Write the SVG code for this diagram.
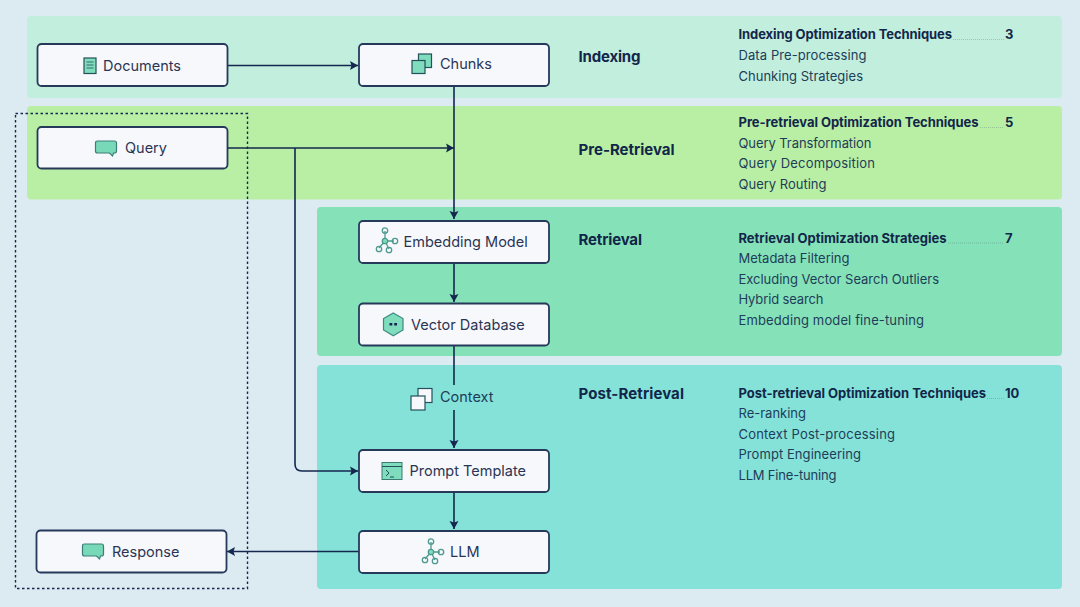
<svg xmlns="http://www.w3.org/2000/svg" width="1080" height="607" viewBox="0 0 1080 607">
<style>
.node{fill:#f6f8fc;stroke:#26395a;stroke-width:1.8}
.lbl{font:400 14.5px Inter,"Liberation Sans",sans-serif;fill:#2b3553}
.sec{font:700 15px Inter,"Liberation Sans",sans-serif;fill:#12264a}
.h{font:700 13px Inter,"Liberation Sans",sans-serif;fill:#12264a}
.t{font:400 13px Inter,"Liberation Sans",sans-serif;fill:#1e3d58}
.dots{stroke:#12264a;stroke-width:.7;stroke-dasharray:.7 1.3;fill:none;opacity:.45}
.c{stroke:#14274e;stroke-width:1.6;fill:none}
.ic{fill:#7fdcbc;stroke:#23505a;stroke-width:1.2}
.g{fill:none;stroke:#4d9a8e;stroke-width:1.3}
</style>
<defs>
<marker id="a" markerUnits="userSpaceOnUse" markerWidth="9" markerHeight="10" refX="8" refY="5" orient="auto"><path d="M0 .5L8 5L0 9.500L1.500 5Z" fill="#14274e"/></marker>
<g id="bubble"><path d="M-8.500-7H8.500Q10.500-7 10.500-5V3Q10.500 5 8.500 5H7.500L6.500 8L3.500 5H-8.500Q-10.500 5-10.500 3V-5Q-10.500-7-8.500-7Z" fill="#78d9b8" stroke="#3d7f78" stroke-width="1.200"/></g>
<g id="net"><path class="g" d="M-1-10V0H8M-1 0L-7 7M-1 0L3 8"/><circle class="g" cx="-1" cy="-10.500" r="2.700"/><circle cx="-1" cy="0" r="2.700" fill="#7fdcbc" stroke="#4d9a8e" stroke-width="1.300"/><circle class="g" cx="9" cy="0" r="2.700"/><circle class="g" cx="-7" cy="8" r="2.700"/><circle class="g" cx="3" cy="9" r="2.700"/></g>
</defs>
<rect width="1080" height="607" fill="#dceaf1"/>
<g id="bands">
<rect x="27" y="16" width="1035" height="82" rx="4" fill="#c1eedd"/>
<rect x="27" y="106" width="1035" height="93.500" rx="4" fill="#b9efa4"/>
<rect x="317" y="207" width="745" height="149" rx="4" fill="#85e2b8"/>
<rect x="317" y="365" width="745" height="224" rx="4" fill="#84e2d8"/>
</g>
<rect id="query-response-scope" x="15.500" y="113.500" width="232" height="475" fill="none" stroke="#14274e" stroke-width="1.400" stroke-dasharray="2.500 2.500"/>
<g id="connectors">
<path class="c" d="M228 65.500H358" marker-end="url(#a)"/>
<path class="c" d="M454 86V219" marker-end="url(#a)"/>
<path class="c" d="M228 148H454" marker-end="url(#a)"/>
<path class="c" d="M295 148V464Q295 471 302 471H358" marker-end="url(#a)"/>
<path class="c" d="M454 263V302" marker-end="url(#a)"/>
<path class="c" d="M454 346V385"/>
<path class="c" d="M454 410V448" marker-end="url(#a)"/>
<path class="c" d="M454 492V529" marker-end="url(#a)"/>
<path class="c" d="M359 551.500H227" marker-end="url(#a)"/>
</g>
<g id="documents"><rect class="node" x="37.500" y="44" width="190" height="42" rx="4"/>
<rect class="ic" x="84" y="58" width="12" height="15.500"/><path d="M86.500 62H93.500M86.500 65H93.500M86.500 68H93.500" stroke="#23505a" stroke-width=".8"/>
<text class="lbl" x="103" y="70.500">Documents</text></g>
<g id="chunks"><rect class="node" x="359" y="44" width="190" height="42" rx="4"/>
<rect x="418.500" y="54" width="13" height="13.500" class="ic"/><rect x="412" y="60.500" width="13" height="13" class="ic"/>
<text class="lbl" x="440" y="69">Chunks</text></g>
<g id="query"><rect class="node" x="37.500" y="127" width="190" height="41.500" rx="4"/>
<use href="#bubble" x="106" y="148"/>
<text class="lbl" x="125" y="153">Query</text></g>
<g id="embedding-model"><rect class="node" x="359" y="221" width="190" height="42" rx="4"/>
<use href="#net" x="386" y="241"/>
<text class="lbl" x="403.500" y="247">Embedding Model</text></g>
<g id="vector-database"><rect class="node" x="359" y="303.500" width="190" height="42" rx="4"/>
<path d="M393.300 313L403 318.500V330L393.300 335.800L383.500 330V318.500Z" fill="#7fdcbc" stroke="#3d8a80" stroke-width="1.200"/><path d="M389.500 324.300H397" stroke="#14274e" stroke-width="2.400" stroke-dasharray="2.800 1.900"/>
<text class="lbl" x="411" y="329.500">Vector Database</text></g>
<g id="context"><rect x="418" y="388.500" width="14" height="14" fill="#f6f8fc" stroke="#23505a" stroke-width="1.200"/><rect x="411" y="396" width="14" height="14" fill="#f6f8fc" stroke="#23505a" stroke-width="1.200"/>
<text x="440" y="402" style="font:400 14.500px Inter,'Liberation Sans',sans-serif;fill:#1e3d58">Context</text></g>
<g id="prompt-template"><rect class="node" x="359" y="450" width="190" height="42" rx="4"/>
<rect x="382" y="462.500" width="20" height="17" fill="#7fdcbc" stroke="#3d7a70" stroke-width="1"/><path d="M382 466.500H402" stroke="#23505a" stroke-width="1"/><path d="M386 470L389 473L386 476M390 477H394" fill="none" stroke="#23505a"/>
<text class="lbl" x="409.500" y="476">Prompt Template</text></g>
<g id="llm"><rect class="node" x="359" y="531" width="190" height="42" rx="4"/>
<use href="#net" x="432" y="552"/>
<text class="lbl" x="450" y="557">LLM</text></g>
<g id="response"><rect class="node" x="36.500" y="530.500" width="190" height="42" rx="4"/>
<use href="#bubble" x="93" y="551"/>
<text class="lbl" x="112" y="557">Response</text></g>
<g id="sections">
<text class="sec" x="578.500" y="62" textLength="62">Indexing</text>
<text class="h" x="738.500" y="39" textLength="213.500">Indexing Optimization Techniques</text><path class="dots" d="M953 39.500H1004"/><text class="h" x="1005" y="39">3</text>
<text class="t" x="738.500" y="60" textLength="128">Data Pre-processing</text>
<text class="t" x="738.500" y="80.500" textLength="124.500">Chunking Strategies</text>
<text class="sec" x="578.500" y="155" textLength="96">Pre-Retrieval</text>
<text class="h" x="738.500" y="127" textLength="240">Pre-retrieval Optimization Techniques</text><path class="dots" d="M980 127.500H1004"/><text class="h" x="1005" y="127">5</text>
<text class="t" x="738.500" y="147.500" textLength="133">Query Transformation</text>
<text class="t" x="738.500" y="168" textLength="136.500">Query Decomposition</text>
<text class="t" x="738.500" y="188.500" textLength="88">Query Routing</text>
<text class="sec" x="578.500" y="245" textLength="63.500">Retrieval</text>
<text class="h" x="738.500" y="242.500" textLength="208">Retrieval Optimization Strategies</text><path class="dots" d="M948 243H1004"/><text class="h" x="1005" y="242.500">7</text>
<text class="t" x="738.500" y="263" textLength="111">Metadata Filtering</text>
<text class="t" x="738.500" y="283.500" textLength="200.500">Excluding Vector Search Outliers</text>
<text class="t" x="738.500" y="304" textLength="85">Hybrid search</text>
<text class="t" x="738.500" y="324.500" textLength="185.500">Embedding model fine-tuning</text>
<text class="sec" x="578.500" y="398.500" textLength="105.500">Post-Retrieval</text>
<text class="h" x="738.500" y="398" textLength="247.500">Post-retrieval Optimization Techniques</text><path class="dots" d="M987 398.500H1004"/><text class="h" x="1005" y="398">10</text>
<text class="t" x="738.500" y="418" textLength="67.500">Re-ranking</text>
<text class="t" x="738.500" y="438.500" textLength="156.500">Context Post-processing</text>
<text class="t" x="738.500" y="459" textLength="122.500">Prompt Engineering</text>
<text class="t" x="738.500" y="479.500" textLength="98">LLM Fine-tuning</text>
</g>
</svg>
